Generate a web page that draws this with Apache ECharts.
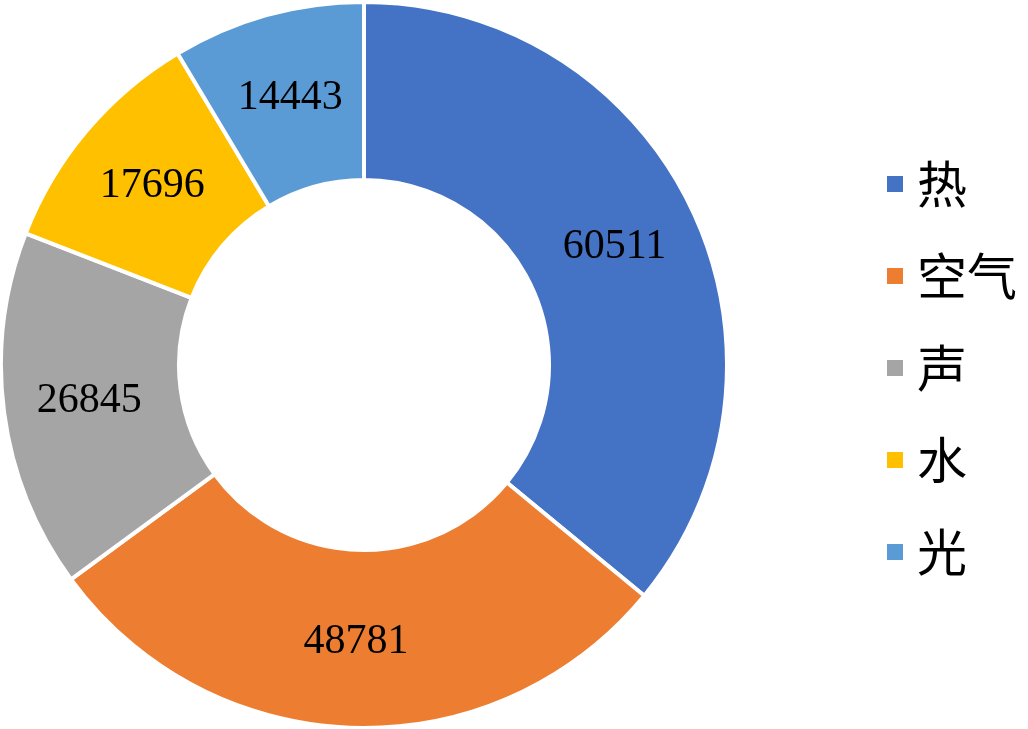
<!DOCTYPE html>
<html>
<head>
<meta charset="utf-8">
<script src="https://cdn.jsdelivr.net/npm/echarts@6/dist/echarts.min.js"></script>
<style>
html,body{margin:0;padding:0;background:#fff;}
#main{width:1028px;height:729px;}
</style>
</head>
<body>
<div id="main"></div>
<script>
const categories = ['热', '空气', '声', '水', '光'];
const values = [60511, 48781, 26845, 17696, 14443];
const colors = ['#4472C4', '#ED7D31', '#A5A5A5', '#FFC000', '#5B9BD5'];

const chart = echarts.init(document.getElementById('main'), null, {renderer: 'canvas'});
chart.setOption({
  backgroundColor: '#ffffff',
  animation: false,
  color: colors,
  legend: {
    orient: 'vertical',
    left: 880,
    top: 151,
    icon: 'rect',
    itemWidth: 18,
    itemHeight: 18,
    itemGap: 36,
    data: categories,
    textStyle: {
      fontFamily: '"Noto Sans CJK SC", sans-serif',
      fontSize: 50,
      lineHeight: 56,
      color: '#000',
      padding: [0, 0, 0, 8]
    }
  },
  series: [{
    type: 'pie',
    center: [364, 365],
    radius: [185, 363],
    startAngle: 90,
    clockwise: true,
    avoidLabelOverlap: false,
    itemStyle: { borderColor: '#ffffff', borderWidth: 4 },
    label: {
      show: true,
      position: 'inner',
      formatter: '{c}',
      fontFamily: '"Liberation Serif", "Times New Roman", serif',
      fontSize: 42,
      color: '#000'
    },
    labelLine: { show: false },
    emphasis: { disabled: true },
    data: categories.map((c, i) => ({ name: c, value: values[i] }))
  }]
});
</script>
</body>
</html>
